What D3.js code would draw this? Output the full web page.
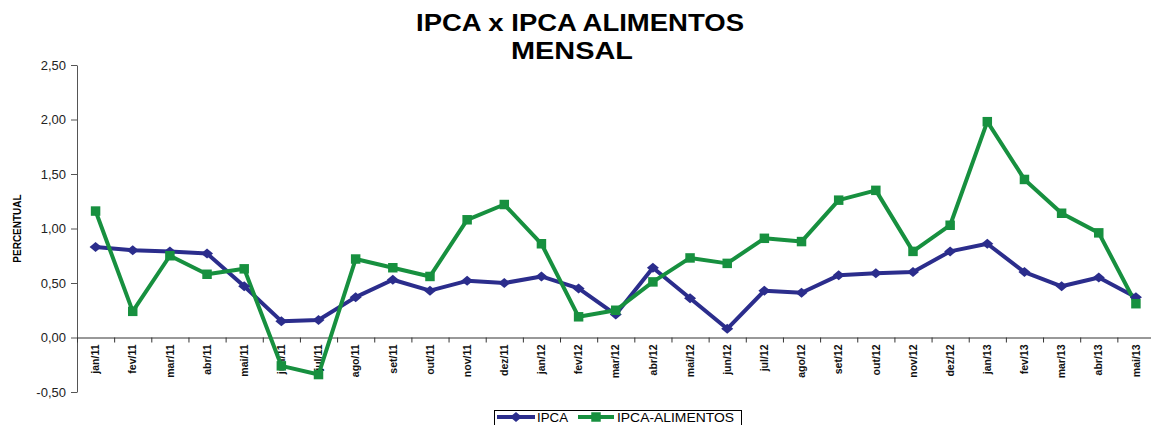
<!DOCTYPE html>
<html>
<head>
<meta charset="utf-8">
<script src="https://cdn.jsdelivr.net/npm/d3@7"></script>
<style>
  body { margin: 0; background: #fff; }
  svg { display: block; font-family: "Liberation Sans", Arial, sans-serif; }
</style>
</head>
<body>
<svg width="1151" height="425"></svg>
<script>
var months = ['jan/11','fev/11','mar/11','abr/11','mai/11','jun/11','jul/11','ago/11','set/11','out/11','nov/11','dez/11',
  'jan/12','fev/12','mar/12','abr/12','mai/12','jun/12','jul/12','ago/12','set/12','out/12','nov/12','dez/12',
  'jan/13','fev/13','mar/13','abr/13','mai/13'];

var ipca = [0.83,0.80,0.79,0.77,0.47,0.15,0.16,0.37,0.53,0.43,0.52,0.50,
  0.56,0.45,0.21,0.64,0.36,0.08,0.43,0.41,0.57,0.59,0.60,0.79,
  0.86,0.60,0.47,0.55,0.37];

var alimentos = [1.16,0.24,0.75,0.58,0.63,-0.26,-0.34,0.72,0.64,0.56,1.08,1.22,
  0.86,0.19,0.25,0.51,0.73,0.68,0.91,0.88,1.26,1.35,0.79,1.03,
  1.98,1.45,1.14,0.96,0.31];

var yTicks = [-0.5, 0, 0.5, 1, 1.5, 2, 2.5];

var blue = '#2b2d8c';
var green = '#17903f';

var svg = d3.select('svg');

var plotLeft = 77, plotRight = 1154.5, plotTop = 65, plotBottom = 392;

var x = d3.scaleBand().domain(months).range([plotLeft, plotRight]);
var xEdge = d3.scaleLinear().domain([0, months.length]).range([plotLeft, plotRight]);
var y = d3.scaleLinear().domain([-0.5, 2.5]).range([plotBottom, plotTop]);

var ptBR = d3.formatLocale({decimal: ',', thousands: '.', grouping: [3], currency: ['R$', ''], minus: '-'});
var fmt = ptBR.format('.2f');

// title (the original is a bit stretched sideways)
svg.append('text').attr('x', 580).attr('y', 31).attr('text-anchor', 'middle')
  .attr('textLength', 328).attr('lengthAdjust', 'spacingAndGlyphs')
  .style('font-size', '24px').style('font-weight', 'bold').text('IPCA x IPCA ALIMENTOS');
svg.append('text').attr('x', 572).attr('y', 58.5).attr('text-anchor', 'middle')
  .attr('textLength', 122).attr('lengthAdjust', 'spacingAndGlyphs')
  .style('font-size', '24px').style('font-weight', 'bold').text('MENSAL');

// y axis
var yAxis = svg.append('g').attr('transform', 'translate(' + plotLeft + ',0)')
  .call(d3.axisLeft(y).tickValues(yTicks).tickFormat(fmt).tickSize(6).tickSizeOuter(0).tickPadding(5));
yAxis.select('.domain').attr('stroke', '#555');
yAxis.selectAll('.tick line').attr('stroke', '#555');
yAxis.selectAll('.tick text').attr('fill', '#222').style('font-size', '13px');

svg.append('text')
  .attr('transform', 'translate(21,' + y(1) + ') rotate(-90)')
  .attr('text-anchor', 'middle')
  .style('font-size', '10px').style('font-weight', 'bold')
  .text('PERCENTUAL');

// x axis: ticks at the month boundaries
var xTicks = svg.append('g').attr('transform', 'translate(0,' + y(0) + ')')
  .call(d3.axisBottom(xEdge).tickValues(d3.range(0, months.length + 1)).tickFormat('').tickSize(5).tickSizeOuter(0));
xTicks.select('.domain').attr('stroke', '#333');
xTicks.selectAll('.tick line').attr('stroke', '#333');

var xLabels = svg.append('g').attr('transform', 'translate(0,' + y(0) + ')')
  .call(d3.axisBottom(x).tickSize(0));
xLabels.select('.domain').remove();
xLabels.selectAll('.tick text')
  .attr('transform', 'rotate(-90)')
  .attr('x', -7).attr('y', 0).attr('dy', '0.35em')
  .style('text-anchor', 'end')
  .style('font-size', '10.5px').style('font-weight', 'bold').attr('fill', '#111');

// lines
var cx = function(d, i){ return x(months[i]) + x.bandwidth() / 2; };
var line = d3.line().x(cx).y(function(d){ return y(d); });

svg.append('path').datum(ipca).attr('d', line)
  .attr('fill', 'none').attr('stroke', blue).attr('stroke-width', 4).attr('stroke-linejoin', 'round');
svg.append('path').datum(alimentos).attr('d', line)
  .attr('fill', 'none').attr('stroke', green).attr('stroke-width', 4).attr('stroke-linejoin', 'round');

var diamond = 'M-6,0L0,-5L6,0L0,5Z';
var square = d3.symbol(d3.symbolSquare, 90)();

svg.append('g').selectAll('path').data(ipca).enter().append('path')
  .attr('d', diamond)
  .attr('transform', function(d, i){ return 'translate(' + cx(d, i) + ',' + y(d) + ')'; })
  .attr('fill', blue);

svg.append('g').selectAll('path').data(alimentos).enter().append('path')
  .attr('d', square)
  .attr('transform', function(d, i){ return 'translate(' + cx(d, i) + ',' + y(d) + ')'; })
  .attr('fill', green);

// legend
var legend = svg.append('g');
legend.append('rect').attr('x', 494.5).attr('y', 410.5).attr('width', 247).attr('height', 22)
  .attr('fill', '#fff').attr('stroke', '#000');

legend.append('line').attr('x1', 497).attr('x2', 535).attr('y1', 417).attr('y2', 417)
  .attr('stroke', blue).attr('stroke-width', 4);
legend.append('path').attr('d', diamond).attr('transform', 'translate(516,417)').attr('fill', blue);
legend.append('text').attr('x', 537).attr('y', 421.5).style('font-size', '12.5px')
  .attr('textLength', 31).attr('lengthAdjust', 'spacingAndGlyphs').text('IPCA');

legend.append('line').attr('x1', 578).attr('x2', 614).attr('y1', 417).attr('y2', 417)
  .attr('stroke', green).attr('stroke-width', 4);
legend.append('path').attr('d', square).attr('transform', 'translate(596,417)').attr('fill', green);
legend.append('text').attr('x', 617).attr('y', 421.5).style('font-size', '12.5px')
  .attr('textLength', 117).attr('lengthAdjust', 'spacingAndGlyphs').text('IPCA-ALIMENTOS');
</script>
</body>
</html>
